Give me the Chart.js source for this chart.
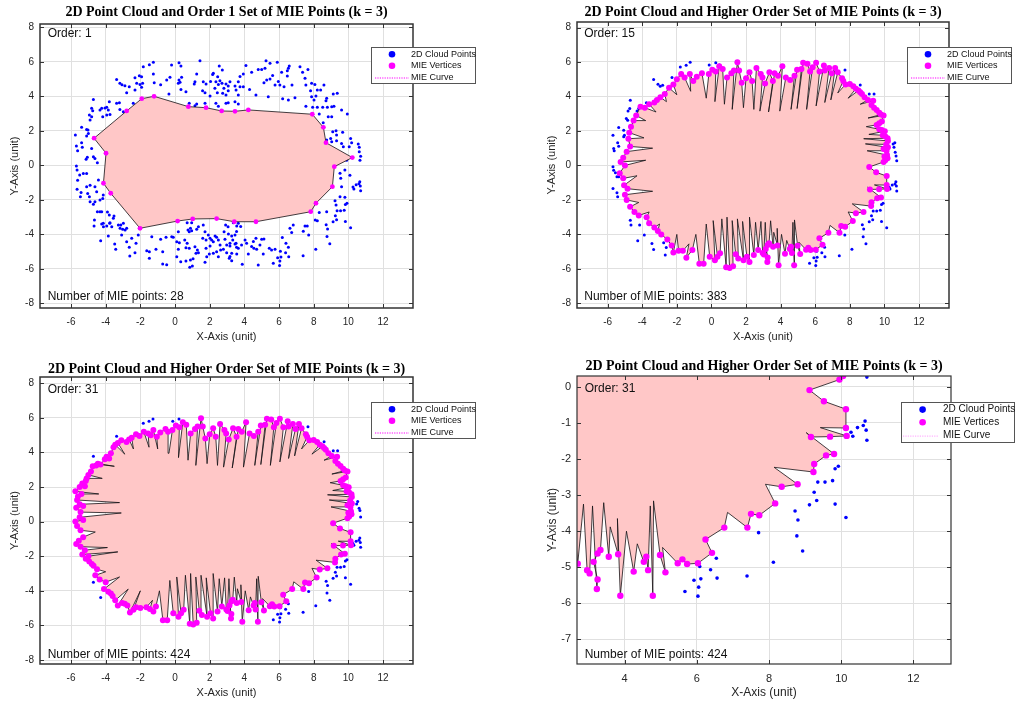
<!DOCTYPE html>
<html>
<head>
<meta charset="utf-8">
<title>2D Point Cloud and MIE Points</title>
<script src="https://cdn.jsdelivr.net/npm/chart.js@4.4.0/dist/chart.umd.min.js"></script>
<style>
  body { margin: 0; background: #fff; }
  #wrap { position: relative; width: 1015px; height: 704px; }
  #wrap canvas { position: absolute; }
</style>
</head>
<body>
<div id="wrap">
  <canvas id="c1" width="507" height="352" style="left:0;top:0"></canvas>
  <canvas id="c2" width="508" height="352" style="left:507px;top:0"></canvas>
  <canvas id="c3" width="507" height="352" style="left:0;top:352px"></canvas>
  <canvas id="c4" width="508" height="352" style="left:507px;top:352px"></canvas>
</div>
<script>
// ---- data ----
const titles = [
  '2D Point Cloud and Order 1 Set of MIE Points (k = 3)',
  '2D Point Cloud and Higher Order Set of MIE Points (k = 3)',
  '2D Point Cloud and Higher Order Set of MIE Points (k = 3)',
  '2D Point Cloud and Higher Order Set of MIE Points (k = 3)'
];
const orderNotes = ['Order: 1', 'Order: 15', 'Order: 31', 'Order: 31'];
const countNotes = ['Number of MIE points: 28', 'Number of MIE points: 383', 'Number of MIE points: 424', 'Number of MIE points: 424'];
const legendLabels = ['2D Cloud Points', 'MIE Vertices', 'MIE Curve'];
const xTicksFull = [-6, -4, -2, 0, 2, 4, 6, 8, 10, 12];
const yTicksFull = [-8, -6, -4, -2, 0, 2, 4, 6, 8];
const xTicksZoom = [4, 6, 8, 10, 12];
const yTicksZoom = [-7, -6, -5, -4, -3, -2, -1, 0];

// full 2D cloud [x, y] (as seen in the order 1 panel)
const cloudPoints = [
  [-4.71,3.82],[-4.81,3.30],[-4.75,3.16],[-4.33,3.20],[-4.23,3.30],[-3.94,3.36],[-3.85,3.20],[-3.79,3.69],
  [-4.17,2.81],[-3.94,2.91],[-3.75,2.95],[-4.81,2.81],[-4.90,2.62],[-5.39,2.20],[-5.75,1.76],[-5.10,2.08],
  [-5.00,1.85],[-5.10,1.70],[-5.39,1.31],[-5.69,1.12],[-5.62,0.85],[-4.81,0.98],[-4.71,0.50],[-4.62,0.40],
  [-4.48,0.15],[-5.13,0.35],[-5.06,0.46],[-5.69,-0.04],[-5.65,-0.27],[-5.50,-0.56],[-5.29,-0.47],[-5.10,-0.47],
  [-5.62,-0.86],[-4.90,-1.15],[-5.10,-1.24],[-5.65,-1.39],[-5.42,-1.58],[-5.46,-1.82],[-5.04,-1.63],[-4.94,-1.82],
  [-4.90,-2.11],[-4.52,-1.53],[-4.62,-2.11],[-4.71,-2.25],[-4.33,-2.01],[-4.17,-1.92],[-4.48,-2.69],[-4.23,-2.69],
  [-4.65,-3.17],[-4.67,-3.52],[-4.23,-3.40],[-4.13,-3.56],[-3.79,-2.88],[-3.75,-3.33],[-3.94,-3.52],[-4.29,-4.37],
  [-3.85,-4.10],[-5.02,2.05],[-4.94,2.92],[-4.42,-0.85],[-4.62,-1.24],[-5.35,1.05],[-3.90,-2.71],[-3.56,-3.07],
  [-1.83,5.71],[-1.48,5.83],[-1.25,5.97],[-0.20,5.81],[0.23,5.95],[0.34,5.75],[1.44,6.06],[2.55,5.75],[2.73,5.52],[2.21,5.33],
  [-3.37,4.98],[-3.18,4.75],[-3.06,4.67],[-2.89,4.61],[-2.64,4.55],[-2.31,5.08],[-2.06,5.19],[-1.93,5.13],[-2.21,4.75],[-2.02,4.69],
  [-1.87,4.75],[-1.93,4.52],[-2.31,4.36],[-2.79,4.21],[-1.25,5.29],[-1.20,4.79],[-0.83,4.67],[-0.48,4.94],[-0.29,5.10],[0.23,4.94],
  [0.29,4.81],[0.38,5.10],[0.19,4.75],[0.34,4.40],[0.63,4.27],[-0.35,4.13],[1.25,5.29],[1.15,4.84],[1.11,4.71],[1.63,4.84],
  [1.79,4.71],[1.59,4.32],[2.17,5.27],[2.46,5.13],[2.59,4.90],[2.36,4.84],[2.05,4.86],[2.50,4.69],[2.71,4.75],[2.94,4.71],
  [3.07,4.59],[2.82,4.46],[3.07,4.32],[2.30,4.46],[2.44,4.21],[2.75,4.17],[2.94,4.07],[1.73,4.21],[2.02,4.01],[2.36,3.59],
  [1.25,3.55],[1.15,3.45],[1.73,3.59],[2.50,3.43],[2.94,3.59],[3.07,3.63],[-3.37,3.59],[-3.21,3.63],[-4.04,3.32],[-3.18,3.24],
  [-2.98,3.11],[-2.41,3.59],[0.82,3.59],
  [4.09,5.79],[4.42,5.40],[3.94,5.29],[3.75,5.14],[3.65,4.84],[5.25,6.06],[5.48,5.91],[5.90,5.98],[5.19,5.62],[5.00,5.56],
  [4.80,5.56],[5.63,5.21],[5.48,5.00],[5.29,4.94],[5.13,4.79],[5.77,4.65],[5.96,4.86],[6.05,4.65],[6.29,4.55],[6.15,5.40],
  [6.48,5.48],[6.59,5.75],[6.48,5.17],[6.54,5.62],[6.75,4.65],[7.21,5.71],[7.36,5.39],[7.67,5.56],[7.50,5.04],[7.55,4.65],
  [7.88,4.75],[8.07,4.69],[8.59,4.65],[7.82,4.32],[8.21,4.36],[8.40,4.36],[8.13,4.01],[9.13,4.13],[9.36,4.17],[8.75,3.88],
  [8.71,3.74],[6.21,3.86],[6.54,3.78],[6.92,3.92],[5.38,3.97],[4.67,4.07],[4.30,4.40],[3.52,4.36],[3.46,4.59],[3.75,4.55],
  [3.94,4.55],[3.65,4.07],[3.17,4.84],[3.46,3.68],[3.65,3.55],[7.55,3.43],[7.94,3.36],[8.21,3.36],[8.52,3.36],[8.79,3.36],
  [7.88,3.97],[8.02,3.78],[8.32,2.97],[9.04,3.40],[9.17,3.43],[9.61,3.20],[9.94,2.97],[8.84,2.81],[9.04,2.81],[9.10,1.95],
  [9.29,2.00],[8.98,1.56],[8.75,1.46],[9.67,1.91],[9.32,1.42],[9.04,1.37],[9.71,1.08],[9.61,1.27],[10.13,1.56],[10.19,1.31],
  [10.05,1.08],[10.57,1.23],[10.63,1.04],[10.63,0.79],[10.71,0.53],[10.67,0.30],[9.90,0.30],[9.32,1.75],[8.55,2.47],
  [9.52,-0.46],[9.56,-0.75],[9.80,-0.27],[10.09,-0.58],[9.61,-1.24],
  [10.27,-1.26],[10.32,-1.37],[10.45,-1.13],[10.61,-1.07],[10.66,-0.95],[10.69,-1.20],[10.71,-1.48],
  [9.92,-2.20],[9.83,-2.27],[9.35,-2.64],[9.55,-2.64],[9.76,-2.60],[9.25,-2.92],[9.32,-3.15],[9.12,-3.27],[9.83,-3.25],[10.13,-3.62],
  [8.72,-3.44],[8.80,-3.69],[8.77,-4.13],[8.93,-4.55],[7.71,-4.04],[8.12,-4.86],[7.39,-5.24],[6.54,-4.75],[6.08,-4.98],[6.38,-5.07],
  [6.56,-5.30],[6.11,-5.32],[5.92,-5.36],[6.05,-5.55],[5.67,-5.67],[6.03,-5.80],
  [3.55,-3.84],[3.17,-4.52],[3.46,-4.56],[3.55,-4.75],[3.84,-4.62],[4.04,-4.33],[4.13,-4.52],[3.79,-3.55],[3.17,-5.29],[3.27,-5.53],
  [3.88,-5.74],[4.23,-5.14],[4.42,-4.71],[4.55,-4.81],[4.52,-4.42],[4.67,-4.23],[4.71,-4.87],[4.90,-4.62],[5.00,-4.29],[5.13,-4.27],
  [4.80,-5.78],[5.09,-5.14],[5.44,-4.81],[5.57,-4.91],[5.77,-4.87],[6.19,-4.19],[6.40,-4.52],[6.63,-3.65],[6.82,-3.46],[6.73,-3.90],
  [7.40,-3.82],[7.50,-3.52],[7.63,-3.52],[8.09,-3.17],[8.21,-3.21],[8.32,-2.74],[8.75,-2.69],[9.23,-2.05],[9.29,-2.30],[9.52,-1.82],
  [9.80,-1.85],
  [-4.14,-1.72],[-4.33,-2.69],[-3.52,-2.94],[-4.14,-3.36],[-3.77,-3.36],[-3.65,-3.56],[-3.27,-3.46],[-3.13,-3.46],[-2.98,-3.36],[-3.17,-3.65],
  [-3.02,-3.71],[-2.88,-3.75],[-2.79,-3.65],[-3.48,-4.56],[-3.42,-4.87],[-2.79,-4.43],[-2.64,-4.75],[-2.50,-4.23],[-2.61,-5.26],[-2.31,-5.07],
  [-2.25,-4.52],[-2.12,-4.04],[-1.63,-4.95],[-1.48,-5.01],[-1.48,-5.39],[-1.34,-4.14],[-1.10,-4.87],[-0.83,-4.29],[-0.71,-5.01],[-0.71,-5.72],
  [-0.48,-5.76],[-0.52,-4.17],[-0.19,-4.14],[-0.10,-4.17],[0.19,-3.85],[0.10,-4.43],[0.25,-4.49],[0.19,-4.87],[0.10,-5.30],[0.33,-5.59],
  [0.63,-5.55],[0.56,-4.33],[0.70,-4.52],[0.63,-4.78],[0.82,-4.81],[0.75,-3.75],[0.89,-3.65],[0.82,-3.85],[0.96,-3.79],[0.70,-3.33],
  [0.96,-3.33],[1.25,-3.71],[1.35,-3.56],[1.15,-4.72],[1.29,-4.91],[1.21,-5.10],[1.35,-5.07],[0.89,-5.49],[1.04,-5.41],[0.85,-5.91],
  [1.00,-5.84],[1.63,-3.46],[1.73,-3.85],[1.60,-4.23],[1.79,-4.33],[1.92,-4.04],[2.02,-4.23],[2.11,-4.33],[2.31,-4.10],[2.40,-4.17],
  [2.21,-4.43],[2.50,-4.33],[2.60,-4.62],[1.79,-4.81],[2.02,-4.68],[1.98,-5.14],[2.21,-5.10],[2.40,-5.01],[1.73,-5.62],[1.83,-5.30],
  [2.50,-5.30],[2.63,-4.91],[2.79,-4.87],[2.98,-4.62],[3.17,-4.68],[2.83,-3.85],[3.08,-3.98],[3.27,-4.10],[3.46,-4.04],[3.33,-4.33],
  [3.52,-4.52],[2.88,-4.29],[2.92,-3.46],[3.06,-3.56],[3.36,-3.33],[3.56,-3.52],[3.65,-3.36],[2.98,-5.07],[3.13,-5.39],[3.27,-5.10],
  [3.65,-4.81],[3.56,-5.14],[-3.08,-4.04]
];

// cloud points still outside the higher-order curves
const visibleLowerRight = [
  [10.71,0.27],[10.66,-0.95],[10.61,-1.07],[10.45,-1.13],[10.69,-1.20],[10.71,-1.48],[10.27,-1.26],[10.32,-1.37],
  [9.92,-2.20],[9.83,-2.27],[9.35,-2.64],[9.55,-2.64],[9.76,-2.60],[9.25,-2.92],[9.32,-3.15],[9.12,-3.27],[9.83,-3.25],[10.13,-3.62],
  [8.72,-3.44],[8.80,-3.69],[8.77,-4.13],[8.93,-4.55],[7.71,-4.04],[8.12,-4.86],[7.39,-5.24],[6.54,-4.75],[6.08,-4.98],[6.38,-5.07],
  [6.56,-5.30],[6.11,-5.32],[5.92,-5.36],[6.05,-5.55],[5.67,-5.67],[6.03,-5.80]
];
const visible15 = [
  [-1.80,5.71],[-1.46,5.81],[-1.23,5.98],[-0.13,5.82],[0.25,5.95],[0.46,5.82],[-3.34,4.98],[-3.09,4.71],[-2.96,4.59],[-2.82,4.65],
  [-2.28,5.10],[-4.69,3.78],[-3.76,3.63],[-4.72,3.30],[-4.82,3.16],[-4.30,3.16],[-4.20,3.30],[-4.92,2.72],[-4.84,2.62],[-5.36,2.20],
  [-5.69,1.75],[-5.07,2.04],[-5.03,1.75],[-5.07,1.66],[-5.36,1.11],[-5.65,0.98],[-5.42,1.31],[-5.62,0.85],[-5.69,-0.08],[-5.65,-0.28],
  [-5.55,-0.43],[-5.36,-0.66],[-5.46,-0.66],[-5.69,-1.34],[-5.46,-1.59],[-5.42,-1.82],[-4.69,-3.18],[-4.65,-3.46],[-4.15,-3.46],[-3.88,-4.04],
  [-4.26,-4.37],[-3.44,-4.53],[-3.34,-4.88],[-2.76,-4.49],[-2.61,-4.76],[-2.67,-5.20],
  [7.72,5.53],[8.60,4.66],[9.12,4.14],[9.40,4.14],[10.50,1.24],[10.60,1.31],[10.55,1.05],[10.62,0.77],[10.67,0.55]
];
const visible31 = [
  [-1.83,5.68],[-1.50,5.80],[-1.27,5.93],[-0.13,5.80],[0.23,5.93],[-3.37,4.93],[-4.71,3.78],[7.67,5.49],[8.60,4.62],[9.13,4.10],
  [9.38,4.10],[10.54,1.16],[10.48,1.02],[10.62,0.77],[10.67,0.64],[-4.71,-3.50],[-4.29,-4.39]
];

// order 1 MIE vertices [x, y], in curve order
const mie1Vertices = [
  [10.23,0.45],[8.71,1.31],[8.56,2.20],[7.92,2.96],[4.23,3.21],[3.46,3.13],[2.69,3.15],[1.79,3.34],[0.77,3.40],
  [-1.21,4.00],[-1.92,3.86],[-2.79,3.15],[-4.67,1.57],[-3.98,0.70],[-4.13,-1.04],[-3.71,-1.62],[-2.02,-3.65],
  [0.15,-3.23],[1.02,-3.11],[2.40,-3.09],[3.42,-3.27],[4.67,-3.27],[7.83,-2.69],[8.13,-2.20],[9.08,-1.24],[9.19,-0.08]
];

// higher order MIE curves [x, y, isVertex]; 0 marks an inner corner of the curve
// right side and top (shared by orders 15 and 31)
const mieRightTop = [
  [9.95,0.20,1],[10.05,0.30,1],[10.18,0.42,1],[10.00,0.52,1],[10.15,0.60,1],[9.00,0.85,0],[10.12,0.85,1],[9.95,0.95,1],[10.20,1.05,1],[8.90,1.25,0],
  [10.10,1.22,1],[10.20,1.42,1],[8.80,1.55,0],[10.18,1.58,1],[10.05,1.68,1],[9.90,1.75,1],[9.10,1.80,0],[10.02,1.98,1],[9.85,2.05,1],[9.70,2.10,1],
  [8.95,2.25,0],[9.55,2.35,1],[9.70,2.45,1],[9.85,2.55,1],[9.95,2.90,1],[9.05,2.75,0],[9.80,2.95,1],[9.70,3.05,1],[9.55,3.22,1],[9.40,3.35,1],
  [9.25,3.50,1],[9.35,3.75,1],[8.60,3.55,0],[9.05,3.80,1],[8.85,3.95,1],[8.70,4.15,1],[8.60,4.25,1],[8.50,4.35,1],[7.90,3.90,0],[8.35,4.45,1],
  [8.20,4.60,1],[8.00,4.72,1],[7.75,4.70,1],[7.30,4.20,0],[7.62,4.90,1],
  [7.55,5.05,1],[7.30,5.40,1],[6.90,3.80,0],[7.15,5.65,1],[6.95,5.35,1],[6.55,3.65,0],[6.80,5.65,1],[6.55,5.50,1],[6.50,5.80,1],
  [6.05,3.45,0],[6.25,5.45,1],[6.05,5.95,1],[5.85,5.70,1],[5.50,3.25,0],[5.70,5.45,1],[5.55,5.90,1],[5.30,5.95,1],[4.95,3.30,0],[5.20,5.60,1],
  [4.95,5.55,1],[4.60,3.25,0],[4.80,5.20,1],[4.55,4.95,1],[4.30,5.10,1],[3.95,3.15,0],[4.10,5.75,1],[3.85,5.20,1],[3.65,5.35,1],[3.30,3.10,0],
  [3.55,4.90,1],[3.35,5.40,1],[3.10,4.75,1],[2.80,3.15,0],[2.95,5.10,1],[2.85,5.30,1],[2.60,5.65,1],[2.45,3.25,0],[2.35,4.90,1],[2.20,5.40,1],
  [2.00,5.05,1],[1.85,3.35,0],[1.75,4.80,1],[1.60,5.50,1],[1.50,5.98,1],[1.20,3.25,0],[1.30,5.50,1],[1.15,5.35,1],[0.90,5.10,1],[0.75,3.55,0],
  [0.65,5.60,1],[0.45,5.75,1],[0.20,3.70,0],[0.25,5.45,1],[0.05,5.55,1],[-0.15,5.30,1]
];
// left side, order 31
const mieLeft31 = [
  [-0.35,3.95,0],[-0.40,5.20,1],[-0.55,5.35,1],[-0.85,5.15,1],[-1.05,4.90,1],[-1.00,4.20,0],[-1.25,5.30,1],[-1.40,5.00,1],[-1.55,5.10,1],[-1.50,4.30,0],
  [-1.80,5.20,1],[-2.05,4.95,1],[-2.25,5.05,1],[-2.50,4.85,1],[-2.40,4.20,0],[-2.65,4.75,1],[-2.80,4.60,1],[-3.10,4.70,1],[-3.30,4.55,1],[-2.90,3.90,0],
  [-3.45,4.45,1],[-3.55,4.30,1],[-3.70,3.95,1],[-3.80,3.65,1],[-3.95,3.75,1],[-4.05,3.60,1],[-4.30,3.30,1],[-3.50,3.20,0],[-4.45,3.35,1],[-4.55,3.25,1],
  [-4.75,3.20,1],[-4.85,2.90,1],[-5.00,2.70,1],[-4.20,2.50,0],[-5.10,2.50,1],[-5.15,2.35,1],[-5.35,2.20,1],[-5.20,2.05,1],[-5.50,2.00,1],[-5.75,1.75,1],
  [-4.40,1.60,0],[-5.40,1.60,1],[-5.60,1.45,1],[-5.65,1.25,1],[-3.20,1.10,0],[-5.50,1.00,1],[-5.30,0.90,1],[-5.70,0.80,1],[-5.45,0.55,1],[-3.10,0.50,0],
  [-5.50,0.25,1],[-5.30,0.10,1],[-5.75,0.00,1],[-5.65,-0.25,1],[-5.45,-0.50,1],[-4.60,-0.60,0],[-5.30,-0.90,1],[-5.55,-1.10,1],[-5.70,-1.30,1],[-5.45,-1.45,1],
  [-3.90,-1.50,0],[-5.20,-1.65,1],[-5.35,-1.90,1],[-3.30,-1.75,0],[-5.00,-2.00,1],[-5.15,-2.15,1],[-4.95,-2.30,1],[-4.80,-2.45,1],[-4.70,-2.55,1],[-4.50,-2.75,1],
  [-4.00,-2.90,0],[-4.60,-3.10,1],[-4.35,-3.35,1],[-4.00,-3.50,1],[-3.20,-3.20,0],[-4.10,-3.90,1],[-3.85,-4.05,1],[-3.70,-4.15,1],[-3.60,-4.30,1],[-3.45,-4.55,1],
  [-2.70,-3.90,0],[-3.30,-4.85,1],[-3.05,-4.70,1],[-2.90,-4.75,1],[-2.75,-4.85,1],[-2.60,-5.25,1],[-2.00,-4.00,0],[-2.40,-5.10,1],[-2.25,-4.95,1],[-2.00,-5.00,1],
  [-1.65,-4.95,1],[-1.30,-4.55,0],[-1.45,-5.05,1],[-1.25,-5.20,1],[-1.10,-4.90,1]
];
// left side, order 15
const mieLeft15 = [
  [-0.30,3.90,0],[-0.55,5.35,1],[-0.85,5.15,1],[-1.05,4.90,1],[-1.25,5.30,1],[-1.20,4.30,0],[-1.55,5.10,1],[-1.75,5.30,1],[-2.00,5.00,1],[-2.20,4.70,1],
  [-2.00,4.10,0],[-2.45,4.50,1],[-2.70,4.15,1],[-2.60,3.70,0],[-2.95,3.95,1],[-3.15,3.80,1],[-3.30,3.65,1],[-3.60,3.55,1],[-3.20,3.10,0],[-3.85,3.35,1],
  [-4.10,3.40,1],[-4.35,2.90,1],[-3.80,2.60,0],[-4.50,2.60,1],[-4.65,2.25,1],[-4.75,1.90,1],[-3.90,1.60,0],[-4.80,1.55,1],[-4.70,1.10,1],[-3.40,1.00,0],
  [-4.90,0.80,1],[-5.10,0.45,1],[-5.25,0.20,1],[-3.80,0.30,0],[-5.00,0.00,1],[-5.30,-0.45,1],[-5.10,-0.75,1],[-4.30,-0.60,0],[-5.05,-1.15,1],[-4.85,-1.35,1],
  [-3.40,-1.50,0],[-5.00,-1.70,1],[-4.90,-2.00,1],[-4.20,-2.15,0],[-4.70,-2.40,1],[-4.45,-2.70,1],[-4.20,-2.90,1],[-3.60,-2.70,0],[-3.75,-3.00,1],[-3.60,-3.35,1],
  [-3.30,-3.60,1],[-3.00,-3.40,0],[-3.10,-3.80,1],[-2.90,-4.00,1],[-2.55,-4.30,1],[-2.30,-4.65,1],[-2.20,-5.05,1],[-2.00,-4.00,0],[-1.90,-4.95,1],[-1.65,-4.95,1],
  [-1.30,-4.55,0],[-1.45,-5.35,1],[-1.10,-4.90,1]
];
// bottom and lower right (shared by orders 15 and 31)
const mieBottom = [
  [-0.90,-4.00,0],[-0.70,-5.70,1],[-0.45,-5.70,1],[-0.30,-3.40,0],[-0.10,-5.30,1],[0.20,-5.50,1],[0.10,-3.20,0],[0.35,-5.30,1],[0.50,-5.10,1],[0.60,-3.10,0],
  [0.85,-5.90,1],[0.90,-3.00,0],[1.05,-5.95,1],[1.25,-5.85,1],[1.20,-3.20,0],[1.40,-5.15,1],[1.55,-5.40,1],[1.50,-3.10,0],[1.85,-5.50,1],[1.80,-3.25,0],
  [2.05,-5.30,1],[2.20,-5.60,1],[2.20,-3.00,0],[2.45,-5.20,1],[2.55,-3.30,0],[2.70,-4.90,1],[2.86,-3.25,0],[2.96,-5.08,1],[3.03,-5.17,1],[3.11,-3.30,0],
  [3.23,-5.60,1],[3.25,-5.34,1],[3.14,-4.85,1],[3.25,-4.62,1],[3.33,-4.52,1],[3.42,-3.21,0],[3.56,-4.71,1],[3.60,-3.88,0],[3.82,-4.64,1],[3.80,-3.65,0],
  [3.88,-5.79,1],[4.05,-4.00,0],[4.25,-5.12,1],[4.35,-4.35,0],[4.53,-4.85,1],[4.60,-4.71,1],[4.65,-5.08,1],[4.71,-3.30,0],[4.78,-5.79,1],[4.80,-3.16,0],
  [4.98,-4.66,1],[5.13,-5.14,1],[5.05,-4.45,0],[5.47,-4.89,1],[5.60,-4.78,1],[5.73,-4.91,1],[6.03,-4.89,1],[6.42,-4.60,1],[6.24,-4.23,1],[6.76,-3.90,1],
  [6.85,-3.48,0],[7.40,-3.90,1],[7.50,-3.52,1],[7.73,-3.56,1],[8.17,-3.23,1],[7.90,-2.70,0],[8.35,-2.77,1],[8.79,-2.70,1],[8.14,-2.23,0],[9.23,-2.36,1],
  [9.25,-2.14,1],[9.58,-1.90,1],[9.80,-1.86,1],[9.03,-1.27,0],[9.16,-1.39,1],[9.69,-1.38,1],[10.15,-1.36,1],[9.42,-1.13,0],[10.13,-1.14,1],[10.13,-0.62,1],
  [9.52,-0.40,1],[9.12,-0.09,1]
];
const mie15Curve = [...mieRightTop, ...mieLeft15, ...mieBottom];
const mie31Curve = [...mieRightTop, ...mieLeft31, ...mieBottom];

// ---- styling ----
const BLUE = '#0000ff';
const MAGENTA = '#ff00ff';
const PINK = 'rgb(255,199,199)';
const EDGE = '#141014';
const AXIS = '#333333';
const GRID = '#e0e0e0';
Chart.defaults.font.family = '"Liberation Sans", Arial, sans-serif';
Chart.defaults.color = '#262626';

function toXY(list) { return list.map(p => ({ x: p[0], y: p[1] })); }
function closedCurve(list) { const pts = toXY(list); pts.push({ x: list[0][0], y: list[0][1] }); return pts; }
function vertexPoints(list) { return toXY(list.filter(p => p[2] !== 0)); }

const decor = {
  id: 'decor',
  afterDraw(chart, args, o) {
    const { ctx, chartArea: a } = chart;
    const xs = chart.scales.x, ys = chart.scales.y;
    ctx.save();
    // inward tick marks and box
    ctx.strokeStyle = AXIS;
    ctx.lineWidth = 1;
    ctx.beginPath();
    o.xTicks.forEach(v => {
      const px = Math.round(xs.getPixelForValue(v)) + 0.5;
      ctx.moveTo(px, a.bottom); ctx.lineTo(px, a.bottom - 4);
      ctx.moveTo(px, a.top); ctx.lineTo(px, a.top + 4);
    });
    o.yTicks.forEach(v => {
      const py = Math.round(ys.getPixelForValue(v)) + 0.5;
      ctx.moveTo(a.left, py); ctx.lineTo(a.left + 4, py);
      ctx.moveTo(a.right, py); ctx.lineTo(a.right - 4, py);
    });
    ctx.stroke();
    ctx.lineWidth = o.boxWidth;
    ctx.strokeRect(a.left, a.top, a.right - a.left, a.bottom - a.top);

    // title
    ctx.fillStyle = '#000';
    ctx.font = 'bold 14px "Liberation Serif", "Times New Roman", serif';
    ctx.textAlign = 'center';
    ctx.textBaseline = 'middle';
    ctx.fillText(o.title, (a.left + a.right) / 2, o.titleY);

    // notes
    ctx.font = '12px "Liberation Sans", Arial, sans-serif';
    ctx.textAlign = 'left';
    ctx.fillStyle = '#111';
    let ox, oy, ny;
    if (o.noteData) {
      ox = xs.getPixelForValue(o.noteData[0]);
      oy = ys.getPixelForValue(o.noteData[1]);
      ny = ys.getPixelForValue(o.noteData[2]);
    } else {
      ox = a.left + 7.7; oy = a.top + 12.3; ny = a.bottom - 9.7;
    }
    ctx.fillText(o.order, ox, oy);
    ctx.fillText(o.count, ox, ny);

    // legend
    const L = o.legend;
    ctx.fillStyle = '#fff';
    ctx.fillRect(L.x, L.y, L.w, L.h);
    ctx.strokeStyle = '#555';
    ctx.lineWidth = 1;
    ctx.strokeRect(L.x + 0.5, L.y + 0.5, L.w, L.h);
    ctx.fillStyle = BLUE;
    ctx.beginPath(); ctx.arc(L.x + L.mx, L.y + L.rows[0], 3.3, 0, Math.PI * 2); ctx.fill();
    ctx.fillStyle = MAGENTA;
    ctx.beginPath(); ctx.arc(L.x + L.mx, L.y + L.rows[1], 3.3, 0, Math.PI * 2); ctx.fill();
    ctx.strokeStyle = L.lineColor;
    ctx.setLineDash([1.2, 1.2]);
    ctx.beginPath();
    ctx.moveTo(L.x + L.l0, L.y + L.rows[2] + 0.5); ctx.lineTo(L.x + L.l1, L.y + L.rows[2] + 0.5);
    ctx.stroke();
    ctx.setLineDash([]);
    ctx.fillStyle = '#111';
    ctx.font = L.font + 'px "Liberation Sans", Arial, sans-serif';
    legendLabels.forEach((t, i) => ctx.fillText(t, L.x + L.tx, L.y + L.rows[i]));
    ctx.restore();
  }
};

const legendSmall = (x, y) => ({ x, y, w: 104, h: 36, mx: 21, tx: 40, rows: [7.3, 18.8, 30.5], font: 9, l0: 4, l1: 38, lineColor: MAGENTA });

const panels = [
  { id: 'c1', title: titles[0], order: orderNotes[0], count: countNotes[0], cloud: cloudPoints,
    vertices: toXY(mie1Vertices), curve: closedCurve(mie1Vertices),
    x: [-7.79, 13.73], y: [-8.27, 8.19], xTicks: xTicksFull, yTicks: yTicksFull,
    pad: { left: 0, right: 94, top: 24, bottom: 8 }, titleY: 12.7, noteData: [-7.35, 7.65, -7.63],
    tickFont: 10, axisFont: 11, cloudR: 1.5, vertR: 2.4, boxWidth: 1.5, legend: legendSmall(371, 47) },
  { id: 'c2', title: titles[1], order: orderNotes[1], count: countNotes[1], cloud: [...visible15, ...visibleLowerRight],
    vertices: vertexPoints(mie15Curve), curve: closedCurve(mie15Curve),
    x: [-7.77, 13.73], y: [-8.27, 8.32], xTicks: xTicksFull, yTicks: yTicksFull,
    pad: { left: 30, right: 66, top: 22, bottom: 8 }, titleY: 12.7, noteData: [-7.35, 7.65, -7.63],
    tickFont: 10, axisFont: 11, cloudR: 1.5, vertR: 3.0, boxWidth: 1.5, legend: legendSmall(400, 47) },
  { id: 'c3', title: titles[2], order: orderNotes[2], count: countNotes[2], cloud: [...visible31, ...visibleLowerRight],
    vertices: vertexPoints(mie31Curve), curve: closedCurve(mie31Curve),
    x: [-7.79, 13.73], y: [-8.23, 8.36], xTicks: xTicksFull, yTicks: yTicksFull,
    pad: { left: 0, right: 94, top: 25, bottom: 4 }, titleY: 17, noteData: [-7.35, 7.62, -7.68],
    tickFont: 10, axisFont: 11, cloudR: 1.5, vertR: 3.0, boxWidth: 1.5, legend: legendSmall(371, 50) },
  { id: 'c4', title: titles[3], order: orderNotes[3], count: countNotes[3], cloud: [...visible31, ...visibleLowerRight],
    vertices: vertexPoints(mie31Curve), curve: closedCurve(mie31Curve),
    x: [2.68, 13.04], y: [-7.68, 0.30], xTicks: xTicksZoom, yTicks: yTicksZoom,
    pad: { left: 30, right: 64, top: 24, bottom: 4 }, titleY: 14.7, noteData: null,
    tickFont: 11, axisFont: 12, cloudR: 1.8, vertR: 3.2, boxWidth: 1.2,
    legend: { x: 394, y: 50, w: 113, h: 40, mx: 21.6, tx: 42, rows: [7.6, 20.3, 33.6], font: 10, l0: 2, l1: 38, lineColor: '#ff9cff' } }
];

panels.forEach(P => {
  new Chart(document.getElementById(P.id), {
    type: 'scatter',
    data: {
      datasets: [
        { label: legendLabels[1], data: P.vertices, order: 1,
          pointRadius: P.vertR, pointHoverRadius: P.vertR, pointBackgroundColor: MAGENTA, pointBorderWidth: 0 },
        { type: 'line', label: legendLabels[2], data: P.curve, order: 2,
          fill: 'shape', backgroundColor: PINK, borderColor: EDGE, borderWidth: 0.8,
          pointRadius: 0, tension: 0 },
        { label: legendLabels[0], data: toXY(P.cloud), order: 3,
          pointRadius: P.cloudR, pointHoverRadius: P.cloudR, pointBackgroundColor: BLUE, pointBorderWidth: 0 }
      ]
    },
    options: {
      responsive: false,
      animation: false,
      events: [],
      layout: { padding: P.pad },
      plugins: {
        legend: { display: false },
        tooltip: { enabled: false },
        decor: { title: P.title, titleY: P.titleY, order: P.order, count: P.count, noteData: P.noteData,
                 xTicks: P.xTicks, yTicks: P.yTicks, boxWidth: P.boxWidth, legend: P.legend }
      },
      scales: {
        x: {
          type: 'linear', min: P.x[0], max: P.x[1],
          afterBuildTicks: s => { s.ticks = P.xTicks.map(v => ({ value: v })); },
          afterFit: s => { s.height = 36; },
          grid: { color: GRID, drawTicks: false },
          border: { display: false },
          ticks: { padding: 8, font: { size: P.tickFont }, callback: v => String(v) },
          title: { display: true, text: 'X-Axis (unit)', font: { size: P.axisFont }, padding: { top: 0, bottom: 0 } }
        },
        y: {
          type: 'linear', min: P.y[0], max: P.y[1],
          afterBuildTicks: s => { s.ticks = P.yTicks.map(v => ({ value: v })); },
          afterFit: s => { s.width = 40; },
          grid: { color: GRID, drawTicks: false },
          border: { display: false },
          ticks: { padding: 6, font: { size: P.tickFont }, callback: v => String(v) },
          title: { display: true, text: 'Y-Axis (unit)', font: { size: P.axisFont }, padding: { top: 8, bottom: 0 } }
        }
      }
    },
    plugins: [decor]
  });
});
</script>
</body>
</html>
